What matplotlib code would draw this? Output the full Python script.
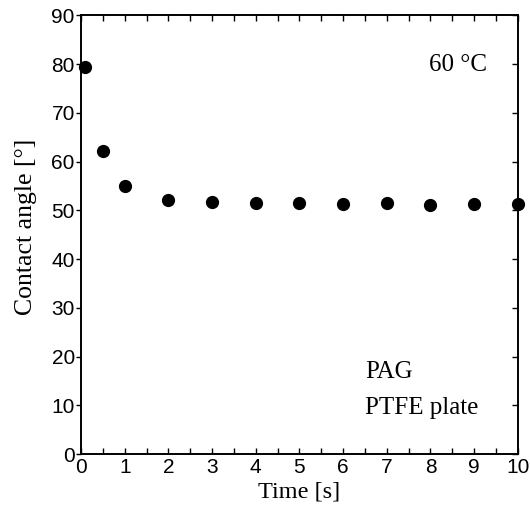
import matplotlib
matplotlib.use("Agg")
import matplotlib.pyplot as plt
from matplotlib.ticker import MultipleLocator

# contact angle of PAG on PTFE plate at 60 C
time_s = [0.1, 0.5, 1, 2, 3, 4, 5, 6, 7, 8, 9, 10]
angle_deg = [79.5, 62.2, 55.0, 52.2, 51.8, 51.5, 51.5, 51.3, 51.5, 51.2, 51.3, 51.3]

serif = "Liberation Serif"
sans = "Liberation Sans"

fig = plt.figure(figsize=(5.30, 5.16), dpi=100)
ax = fig.add_axes([0.153, 0.120, 0.824, 0.850])

ax.plot(time_s, angle_deg, "o", color="black", markersize=8.5, clip_on=False, zorder=3)

ax.set_xlim(0, 10)
ax.set_ylim(0, 90)
ax.xaxis.set_major_locator(MultipleLocator(1))
ax.xaxis.set_minor_locator(MultipleLocator(0.5))
ax.yaxis.set_major_locator(MultipleLocator(10))

# x ticks inward on bottom and top, y ticks outward on left, inward on right
ax.tick_params(axis="x", which="both", direction="in", top=True, length=4.5, width=1, pad=3)
ax.tick_params(axis="y", which="major", direction="out", left=True, length=3.5, width=1, pad=1)
for t in ax.get_xticklabels() + ax.get_yticklabels():
    t.set_fontfamily(sans)
    t.set_fontsize(15)

# right side ticks pointing inward
ax2 = ax.twinx()
ax2.set_ylim(0, 90)
ax2.yaxis.set_major_locator(MultipleLocator(10))
ax2.tick_params(axis="y", direction="in", length=4.5, width=1, labelright=False)

for a in (ax, ax2):
    for s in a.spines.values():
        s.set_linewidth(1.2)

ax.set_xlabel("Time [s]", fontfamily=serif, fontsize=17.5, labelpad=3)
ax.set_ylabel("Contact angle [°]", fontfamily=serif, fontsize=18.5)
ax.yaxis.set_label_coords(-0.100, 0.518)

ax.text(0.929, 0.888, "60 °C", transform=ax.transAxes, ha="right", va="center",
        fontfamily=serif, fontsize=18)
ax.text(0.650, 0.187, "PAG", transform=ax.transAxes, ha="left", va="center",
        fontfamily=serif, fontsize=18)
ax.text(0.650, 0.105, "PTFE plate", transform=ax.transAxes, ha="left", va="center",
        fontfamily=serif, fontsize=18)

fig.savefig("out.png", dpi=100)
